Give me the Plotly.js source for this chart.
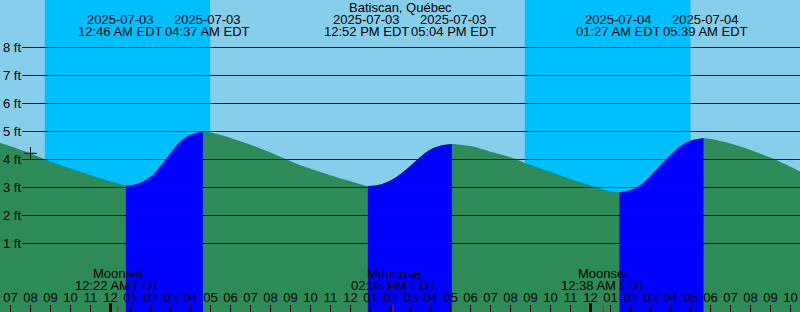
<!DOCTYPE html>
<html>
<head>
<meta charset="utf-8">
<script src="https://cdn.plot.ly/plotly-3.0.1.min.js"></script>
<style>
html,body{margin:0;padding:0;background:#87CEEB;}
#chart{width:800px;height:312px;}
</style>
</head>
<body>
<div id="chart"></div>
<script>
// ---- data ----
const stationName = 'Batiscan, Québec';
const tideTimes = [
 '2025-07-02 18:28','2025-07-02 19:00','2025-07-02 20:00','2025-07-02 21:00','2025-07-02 22:00','2025-07-02 23:00',
 '2025-07-03 00:00','2025-07-03 00:46','2025-07-03 01:00','2025-07-03 01:30','2025-07-03 02:00','2025-07-03 02:30',
 '2025-07-03 03:00','2025-07-03 03:30','2025-07-03 04:00','2025-07-03 04:37','2025-07-03 05:00','2025-07-03 06:00',
 '2025-07-03 07:00','2025-07-03 08:00','2025-07-03 09:00','2025-07-03 10:00','2025-07-03 11:00','2025-07-03 12:00',
 '2025-07-03 12:52','2025-07-03 13:00','2025-07-03 13:30','2025-07-03 14:00','2025-07-03 14:30','2025-07-03 15:00',
 '2025-07-03 15:30','2025-07-03 16:00','2025-07-03 16:30','2025-07-03 17:04','2025-07-03 17:30','2025-07-03 18:00',
 '2025-07-03 19:00','2025-07-03 20:00','2025-07-03 21:00','2025-07-03 22:00','2025-07-03 23:00','2025-07-04 00:00',
 '2025-07-04 00:30','2025-07-04 01:00','2025-07-04 01:27','2025-07-04 02:00','2025-07-04 02:30','2025-07-04 03:00',
 '2025-07-04 03:30','2025-07-04 04:00','2025-07-04 04:30','2025-07-04 05:00','2025-07-04 05:39','2025-07-04 06:00',
 '2025-07-04 07:00','2025-07-04 08:00','2025-07-04 09:00','2025-07-04 10:00','2025-07-04 10:30'
];
const tideHeights = [
 4.60,4.47,4.21,3.93,3.68,3.45,
 3.22,3.07,3.08,3.17,3.38,3.76,
 4.22,4.64,4.88,5.00,4.96,4.77,
 4.53,4.25,3.94,3.67,3.44,3.22,
 3.05,3.06,3.11,3.25,3.48,3.78,
 4.10,4.36,4.49,4.55,4.53,4.48,
 4.28,4.08,3.80,3.56,3.30,3.07,
 2.96,2.87,2.83,2.91,3.09,3.41,
 3.80,4.16,4.48,4.67,4.76,4.73,
 4.57,4.34,4.07,3.74,3.56
];
const lowTimes  = ['2025-07-03 00:46','2025-07-03 12:52','2025-07-04 01:27'];
const highTimes = ['2025-07-03 04:37','2025-07-03 17:04','2025-07-04 05:39'];
const moonTimes = ['2025-07-03 00:22','2025-07-03 14:08','2025-07-04 00:38'];
const moonKinds = ['Moonset','Moonrise','Moonset'];
const sunsetTimes  = ['2025-07-02 20:43','2025-07-03 20:43'];
const sunriseTimes = ['2025-07-03 04:59','2025-07-04 05:00'];
const midnightTimes = ['2025-07-03 00:00','2025-07-04 00:00'];
const nowTime = '2025-07-02 20:00';
const nowHeight = 4.22;
const ftTicks = [1,2,3,4,5,6,7,8];
const xRange = ['2025-07-02 18:28:30','2025-07-04 10:28:30'];
const yRange = [-1.446, 9.696];

// ---- helpers ----
const FONT = 'Liberation Sans, Arial, sans-serif';
function ms(s){
  const m = s.match(/(\d+)-(\d+)-(\d+) (\d+):(\d+)(?::(\d+))?/);
  return Date.UTC(+m[1], +m[2]-1, +m[3], +m[4], +m[5], +(m[6]||0));
}
function fmtTime(s){
  const m = s.match(/(\d+)-(\d+)-(\d+) (\d+):(\d+)/);
  const h = +m[4]; const ap = h < 12 ? 'AM' : 'PM';
  const h12 = (h % 12) || 12;
  return String(h12).padStart(2,'0') + ':' + m[5] + ' ' + ap + ' EDT';
}
function fmtDate(s){ return s.slice(0,10); }
const W = 800;
const t0 = ms(xRange[0]), t1 = ms(xRange[1]);
const toPx = s => (ms(s) - t0) / (t1 - t0) * W;
const bottom = yRange[0] - 1;

// ---- traces ----
const traces = [];
traces.push({x: tideTimes, y: tideTimes.map(()=>bottom), mode:'lines', line:{width:0}, hoverinfo:'skip'});
traces.push({x: tideTimes, y: tideHeights, mode:'lines', line:{width:0, shape:'spline'},
  fill:'tonexty', fillcolor:'#2E8B57', hoverinfo:'skip'});
for (let i = 0; i < lowTimes.length; i++){
  const a = ms(lowTimes[i]), b = ms(highTimes[i]);
  const xs = [], ys = [];
  tideTimes.forEach((t,k)=>{ const v = ms(t); if (v >= a && v <= b){ xs.push(t); ys.push(tideHeights[k]); } });
  traces.push({x: xs, y: xs.map(()=>bottom), mode:'lines', line:{width:0}, hoverinfo:'skip'});
  traces.push({x: xs, y: ys, mode:'lines', line:{width:0, shape:'spline'},
    fill:'tonexty', fillcolor:'#0000FF', hoverinfo:'skip'});
}
traces.push({x:[nowTime], y:[nowHeight], mode:'markers',
  marker:{symbol:'cross-thin-open', size:9, color:'#000', line:{color:'#000', width:1}}, hoverinfo:'skip'});

// ---- shapes ----
const shapes = [];
for (let i = 0; i < sunsetTimes.length; i++){
  shapes.push({type:'rect', xref:'x', yref:'paper', x0:sunsetTimes[i], x1:sunriseTimes[i], y0:0, y1:1,
    fillcolor:'#00BFFF', line:{width:0}, layer:'below'});
}
ftTicks.forEach(v=>{
  shapes.push({type:'line', xref:'paper', yref:'y', x0:22/W, x1:1, y0:v, y1:v,
    line:{color:'#000', width:1}, layer:'above'});
});
midnightTimes.forEach(t=>{
  shapes.push({type:'line', xref:'x', yref:'paper', x0:t, x1:t, y0:0, y1:9/312,
    line:{color:'#000', width:3}, layer:'above'});
});
moonTimes.forEach(t=>{
  shapes.push({type:'line', xref:'x', yref:'paper', x0:t, x1:t, y0:0, y1:7/312,
    line:{color:'#FF0000', width:1}, layer:'above'});
});

// ---- annotations ----
const ann = [];
const tfont = {family:FONT, size:13, color:'#000'};
ann.push({text: stationName, xref:'paper', yref:'paper', x:0.5, y:1, xanchor:'center', yanchor:'middle',
  yshift:-7.5, showarrow:false, font:tfont});
const events = lowTimes.concat(highTimes).sort((p,q)=>ms(p)-ms(q));
const shifts = events.map(()=>0);
const minSep = 87;
for (let i = 0; i + 1 < events.length; i++){
  const d = (toPx(events[i+1]) + shifts[i+1]) - (toPx(events[i]) + shifts[i]);
  if (d < minSep){ const h = (minSep - d)/2; shifts[i] -= h; shifts[i+1] += h; }
}
events.forEach((t,i)=>{
  ann.push({text: fmtDate(t), xref:'x', yref:'paper', x:t, y:1, xanchor:'center', yanchor:'middle',
    xshift:shifts[i], yshift:-19, showarrow:false, font:tfont});
  ann.push({text: fmtTime(t), xref:'x', yref:'paper', x:t, y:1, xanchor:'center', yanchor:'middle',
    xshift:shifts[i], yshift:-31, showarrow:false, font:tfont});
});
moonTimes.forEach((t,i)=>{
  ann.push({text: moonKinds[i], xref:'x', yref:'paper', x:t, y:0, xanchor:'center', yanchor:'middle',
    yshift:312-273, showarrow:false, font:tfont});
  ann.push({text: fmtTime(t), xref:'x', yref:'paper', x:t, y:0, xanchor:'center', yanchor:'middle',
    yshift:312-285, showarrow:false, font:tfont});
});
ftTicks.forEach(v=>{
  ann.push({text: v + ' ft', xref:'paper', yref:'y', x:0, y:v, xanchor:'left', yanchor:'middle',
    xshift:1, showarrow:false, font:tfont});
});

const layout = {
  width: 800, height: 312,
  margin:{l:0, r:0, t:0, b:0, pad:0},
  paper_bgcolor:'#87CEEB', plot_bgcolor:'#87CEEB',
  showlegend:false,
  xaxis:{type:'date', range:xRange, showgrid:false, zeroline:false, showline:false,
    ticks:'inside', ticklen:7, tickwidth:1, tickcolor:'#000',
    tick0:'2025-07-02 00:00', dtick:3600000, tickformat:'%I',
    ticklabelposition:'inside', ticklabelstandoff:0,
    tickfont:{family:FONT, size:13, color:'#000'}, layer:'above traces', fixedrange:true},
  yaxis:{range:yRange, visible:false, showgrid:false, zeroline:false, fixedrange:true},
  shapes: shapes,
  annotations: ann,
  font:{family:FONT, size:13, color:'#000'}
};
Plotly.newPlot('chart', traces, layout, {staticPlot:true, displayModeBar:false});
</script>
</body>
</html>
